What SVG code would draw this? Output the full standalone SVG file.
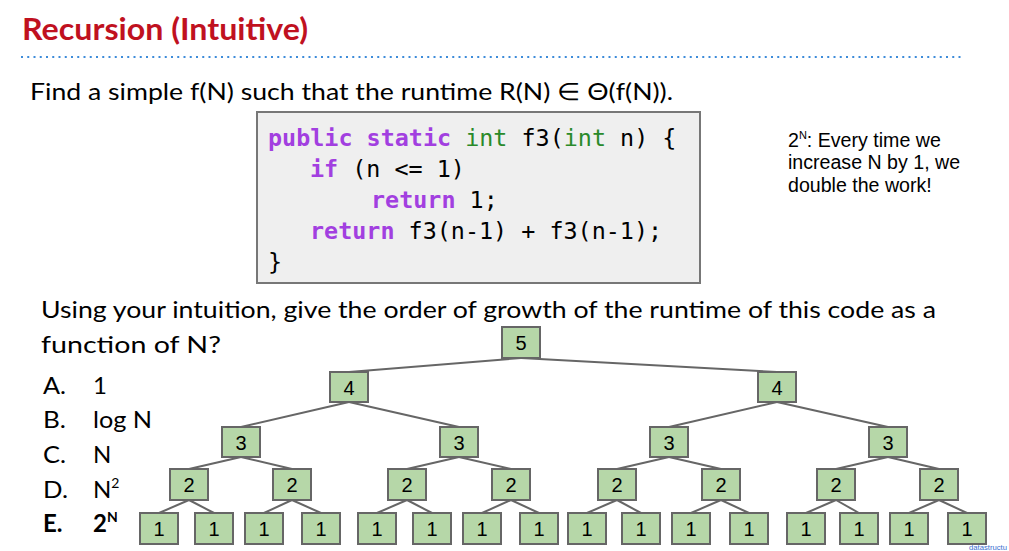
<svg xmlns="http://www.w3.org/2000/svg" width="1009" height="551" viewBox="0 0 1009 551">
  <style>
    .title { font-family: Lato, "Open Sans", sans-serif; font-weight: bold; font-size: 30px; fill: #c0111f; }
    .body { font-family: Lato, "Open Sans", sans-serif; font-size: 24px; fill: #000; }
    .code { font-family: "DejaVu Sans Mono", "Liberation Mono", monospace; font-size: 23.4px; fill: #000; }
    .kw { fill: #a23fe0; font-weight: bold; }
    .ty { fill: #2a8a2a; }
    .note { font-family: "Liberation Sans", Arial, sans-serif; font-size: 19.6px; fill: #000; }
    .node rect { fill: #b6d7a8; stroke: #666; stroke-width: 2; }
    .node text { font-family: "Liberation Sans", Arial, sans-serif; font-size: 20px; fill: #000; text-anchor: middle; }
    .edges line { stroke: #666; stroke-width: 2; }
  </style>

  <!-- heading and separator -->
  <text class="title" x="22" y="40" textLength="286" lengthAdjust="spacingAndGlyphs">Recursion (Intuitive)</text>
  <line x1="21" y1="57" x2="964" y2="57" stroke="#3d8bd9" stroke-width="2" stroke-dasharray="2 4.25"/>

  <text class="body" x="30" y="100" textLength="643" lengthAdjust="spacingAndGlyphs">Find a simple f(N) such that the runtime R(N) ∈ Θ(f(N)).</text>

  <!-- code listing -->
  <g id="code">
    <rect x="257" y="112" width="443" height="171" fill="#efefef" stroke="#777" stroke-width="2"/>
    <text class="code" x="268" y="146"><tspan class="kw">public static</tspan> <tspan class="ty">int</tspan> f3(<tspan class="ty">int</tspan> n) {</text>
    <text class="code" x="310" y="177"><tspan class="kw">if</tspan> (n &lt;= 1)</text>
    <text class="code" x="371" y="208"><tspan class="kw">return</tspan> 1;</text>
    <text class="code" x="310" y="239"><tspan class="kw">return</tspan> f3(n-1) + f3(n-1);</text>
    <text class="code" x="268" y="270">}</text>
  </g>

  <!-- side note -->
  <g id="note">
    <text class="note" x="788" y="147">2<tspan font-size="11" dy="-8">N</tspan><tspan dy="8">: Every time we</tspan></text>
    <text class="note" x="788" y="169">increase N by 1, we</text>
    <text class="note" x="788" y="192">double the work!</text>
  </g>

  <!-- question and choices -->
  <text class="body" x="41" y="318" textLength="895" lengthAdjust="spacingAndGlyphs">Using your intuition, give the order of growth of the runtime of this code as a</text>
  <text class="body" x="41" y="353" textLength="180" lengthAdjust="spacingAndGlyphs">function of N?</text>

  <g id="choices">
    <text class="body" x="43" y="394" textLength="23" lengthAdjust="spacingAndGlyphs">A.</text><text class="body" x="93" y="394">1</text>
    <text class="body" x="43" y="428" textLength="23" lengthAdjust="spacingAndGlyphs">B.</text><text class="body" x="93" y="428" textLength="59" lengthAdjust="spacingAndGlyphs">log N</text>
    <text class="body" x="43" y="463" textLength="23" lengthAdjust="spacingAndGlyphs">C.</text><text class="body" x="93" y="463">N</text>
    <text class="body" x="43" y="498" textLength="25" lengthAdjust="spacingAndGlyphs">D.</text><text class="body" x="93" y="498">N<tspan font-size="14" dy="-10">2</tspan></text>
    <text class="body" x="43" y="532" font-weight="bold">E.</text><text class="body" x="93" y="532" font-weight="bold">2<tspan font-size="14" dy="-10">N</tspan></text>
  </g>

  <!-- call tree connectors: parent bottom-centre to child top-centre -->
  <g class="edges" id="edges">
    <line x1="521" y1="358" x2="349" y2="372"/>
    <line x1="521" y1="358" x2="777" y2="372"/>

    <line x1="349" y1="402" x2="241" y2="427"/>
    <line x1="349" y1="402" x2="459" y2="427"/>
    <line x1="777" y1="402" x2="669" y2="427"/>
    <line x1="777" y1="402" x2="888" y2="427"/>

    <line x1="241" y1="457" x2="189" y2="469"/>
    <line x1="241" y1="457" x2="292" y2="469"/>
    <line x1="459" y1="457" x2="407" y2="469"/>
    <line x1="459" y1="457" x2="511" y2="469"/>
    <line x1="669" y1="457" x2="617" y2="469"/>
    <line x1="669" y1="457" x2="721" y2="469"/>
    <line x1="888" y1="457" x2="836" y2="469"/>
    <line x1="888" y1="457" x2="939" y2="469"/>

    <line x1="189" y1="500" x2="159" y2="513"/>
    <line x1="189" y1="500" x2="214" y2="513"/>
    <line x1="292" y1="500" x2="264" y2="513"/>
    <line x1="292" y1="500" x2="321" y2="513"/>
    <line x1="407" y1="500" x2="377" y2="513"/>
    <line x1="407" y1="500" x2="432" y2="513"/>
    <line x1="511" y1="500" x2="482" y2="513"/>
    <line x1="511" y1="500" x2="539" y2="513"/>
    <line x1="617" y1="500" x2="587" y2="513"/>
    <line x1="617" y1="500" x2="641" y2="513"/>
    <line x1="721" y1="500" x2="691" y2="513"/>
    <line x1="721" y1="500" x2="749" y2="513"/>
    <line x1="836" y1="500" x2="806" y2="513"/>
    <line x1="836" y1="500" x2="859" y2="513"/>
    <line x1="939" y1="500" x2="909" y2="513"/>
    <line x1="939" y1="500" x2="967" y2="513"/>
  </g>

  <!-- call tree nodes -->
  <g id="n5" class="node"><rect x="502" y="327" width="38" height="31"/><text x="521" y="350">5</text></g>

  <g id="n4a" class="node"><rect x="330" y="372" width="38" height="30"/><text x="349" y="395">4</text></g>
  <g id="n4b" class="node"><rect x="758" y="372" width="38" height="30"/><text x="777" y="395">4</text></g>

  <g id="n3a" class="node"><rect x="222" y="427" width="38" height="30"/><text x="241" y="450">3</text></g>
  <g id="n3b" class="node"><rect x="440" y="427" width="38" height="30"/><text x="459" y="450">3</text></g>
  <g id="n3c" class="node"><rect x="650" y="427" width="38" height="30"/><text x="669" y="450">3</text></g>
  <g id="n3d" class="node"><rect x="869" y="427" width="38" height="30"/><text x="888" y="450">3</text></g>

  <g id="n2a" class="node"><rect x="170" y="469" width="38" height="31"/><text x="189" y="492">2</text></g>
  <g id="n2b" class="node"><rect x="273" y="469" width="38" height="31"/><text x="292" y="492">2</text></g>
  <g id="n2c" class="node"><rect x="388" y="469" width="38" height="31"/><text x="407" y="492">2</text></g>
  <g id="n2d" class="node"><rect x="492" y="469" width="38" height="31"/><text x="511" y="492">2</text></g>
  <g id="n2e" class="node"><rect x="598" y="469" width="38" height="31"/><text x="617" y="492">2</text></g>
  <g id="n2f" class="node"><rect x="702" y="469" width="38" height="31"/><text x="721" y="492">2</text></g>
  <g id="n2g" class="node"><rect x="817" y="469" width="38" height="31"/><text x="836" y="492">2</text></g>
  <g id="n2h" class="node"><rect x="920" y="469" width="38" height="31"/><text x="939" y="492">2</text></g>

  <g id="n1a" class="node"><rect x="140" y="513" width="38" height="31"/><text x="159" y="536">1</text></g>
  <g id="n1b" class="node"><rect x="195" y="513" width="38" height="31"/><text x="214" y="536">1</text></g>
  <g id="n1c" class="node"><rect x="245" y="513" width="38" height="31"/><text x="264" y="536">1</text></g>
  <g id="n1d" class="node"><rect x="302" y="513" width="38" height="31"/><text x="321" y="536">1</text></g>
  <g id="n1e" class="node"><rect x="358" y="513" width="38" height="31"/><text x="377" y="536">1</text></g>
  <g id="n1f" class="node"><rect x="413" y="513" width="38" height="31"/><text x="432" y="536">1</text></g>
  <g id="n1g" class="node"><rect x="463" y="513" width="38" height="31"/><text x="482" y="536">1</text></g>
  <g id="n1h" class="node"><rect x="520" y="513" width="38" height="31"/><text x="539" y="536">1</text></g>
  <g id="n1i" class="node"><rect x="568" y="513" width="38" height="31"/><text x="587" y="536">1</text></g>
  <g id="n1j" class="node"><rect x="622" y="513" width="38" height="31"/><text x="641" y="536">1</text></g>
  <g id="n1k" class="node"><rect x="672" y="513" width="38" height="31"/><text x="691" y="536">1</text></g>
  <g id="n1l" class="node"><rect x="730" y="513" width="38" height="31"/><text x="749" y="536">1</text></g>
  <g id="n1m" class="node"><rect x="787" y="513" width="38" height="31"/><text x="806" y="536">1</text></g>
  <g id="n1n" class="node"><rect x="840" y="513" width="38" height="31"/><text x="859" y="536">1</text></g>
  <g id="n1o" class="node"><rect x="890" y="513" width="38" height="31"/><text x="909" y="536">1</text></g>
  <g id="n1p" class="node"><rect x="948" y="513" width="38" height="31"/><text x="967" y="536">1</text></g>

  <!-- footer mark -->
  <text x="969" y="550" font-family="Liberation Sans, Arial, sans-serif" font-size="8" fill="#3a6fd0" textLength="38" lengthAdjust="spacingAndGlyphs">datastructu</text>
</svg>
